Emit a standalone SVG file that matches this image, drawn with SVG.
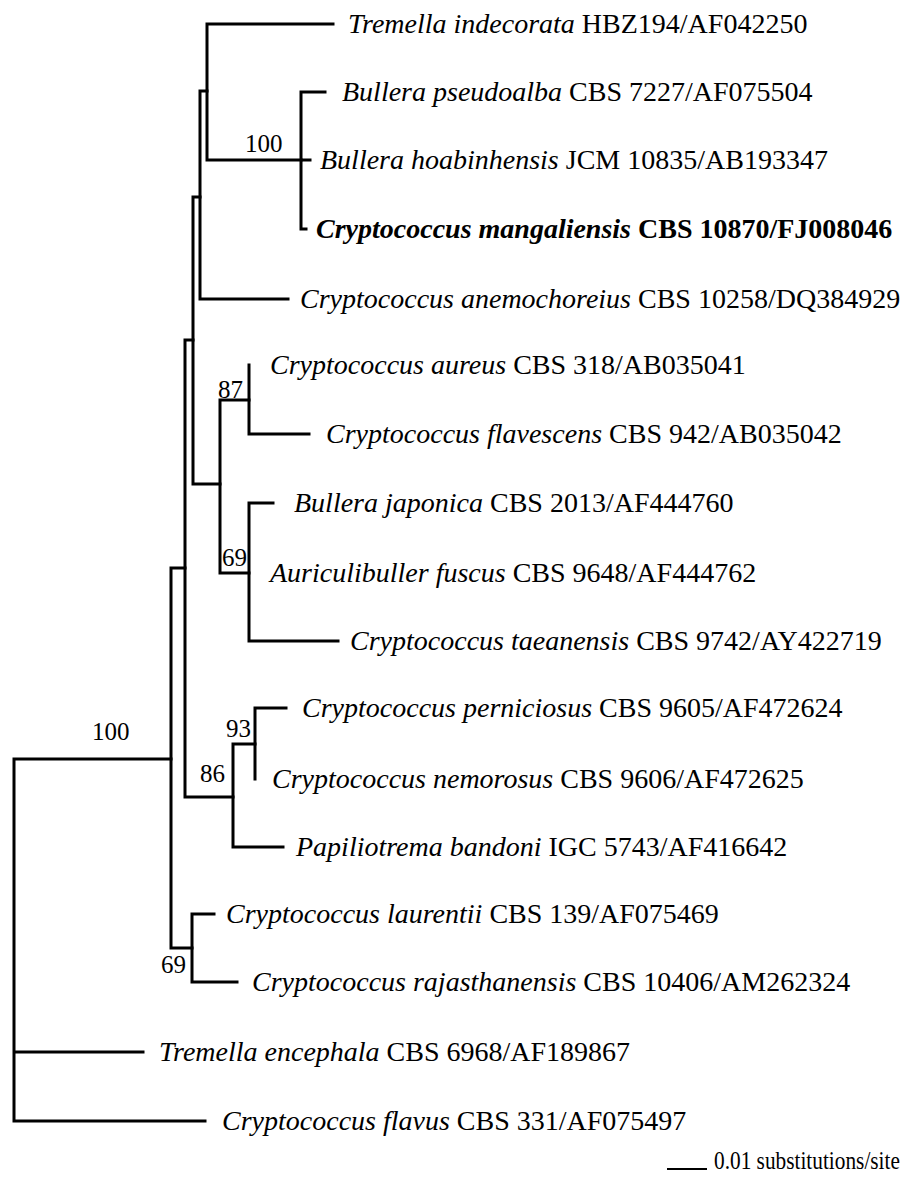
<svg xmlns="http://www.w3.org/2000/svg" width="917" height="1178" viewBox="0 0 917 1178">
<style>
.br{fill:none;stroke:#000;stroke-width:3;stroke-linecap:square}
text{font-family:'Liberation Serif','Times New Roman','DejaVu Serif',serif;fill:#000}
.lb{font-size:28px}
.it{font-style:italic}
.bs{font-size:25px}
</style>
<rect width="917" height="1178" fill="#fff"/>
<g id="connectors">
<path class="br" d="M14,759V1121M14,759H171M14,1052H143M14,1121H205"/>
<path class="br" d="M171,568V948M171,568H185M171,948H192"/>
<path class="br" d="M192,914V982M192,914H214M192,982H237"/>
<path class="br" d="M185,340V797M185,340H193M185,797H233"/>
<path class="br" d="M233,744V847M233,744H255M233,847H283"/>
<path class="br" d="M255,708V779M255,708H286"/>
<path class="br" d="M193,197V484M193,197H200M193,484H220"/>
<path class="br" d="M220,400V573M220,400H249M220,573H249"/>
<path class="br" d="M249,365V434M249,434H309"/>
<path class="br" d="M249,503V641M249,503H273M249,641H338"/>
<path class="br" d="M200,91V299M200,91H207M200,299H288"/>
<path class="br" d="M207,24V160M207,24H333M207,160H301"/>
<path class="br" d="M301,92V229M301,92H325M301,160H310M301,229H306"/>
</g>
<g id="support">
<text class="bs" x="245" y="152">100</text>
<text class="bs" x="218" y="398">87</text>
<text class="bs" x="222" y="566">69</text>
<text class="bs" x="92" y="740">100</text>
<text class="bs" x="226" y="737">93</text>
<text class="bs" x="200" y="782">86</text>
<text class="bs" x="161" y="973">69</text>
</g>
<g id="t1"><text class="lb" x="348" y="33"><tspan class="it">Tremella indecorata</tspan> HBZ194/AF042250</text></g>
<g id="t2"><text class="lb" x="342" y="101"><tspan class="it">Bullera pseudoalba</tspan> CBS 7227/AF075504</text></g>
<g id="t3"><text class="lb" x="320" y="169"><tspan class="it">Bullera hoabinhensis</tspan> JCM 10835/AB193347</text></g>
<g id="t4"><text class="lb" x="316" y="238" font-weight="bold"><tspan class="it">Cryptococcus mangaliensis</tspan> CBS 10870/FJ008046</text></g>
<g id="t5"><text class="lb" x="300" y="308"><tspan class="it">Cryptococcus anemochoreius</tspan> CBS 10258/DQ384929</text></g>
<g id="t6"><text class="lb" x="270" y="374"><tspan class="it">Cryptococcus aureus</tspan> CBS 318/AB035041</text></g>
<g id="t7"><text class="lb" x="326" y="443"><tspan class="it">Cryptococcus flavescens</tspan> CBS 942/AB035042</text></g>
<g id="t8"><text class="lb" x="294" y="512"><tspan class="it">Bullera japonica</tspan> CBS 2013/AF444760</text></g>
<g id="t9"><text class="lb" x="270" y="582"><tspan class="it">Auriculibuller fuscus</tspan> CBS 9648/AF444762</text></g>
<g id="t10"><text class="lb" x="350" y="650"><tspan class="it">Cryptococcus taeanensis</tspan> CBS 9742/AY422719</text></g>
<g id="t11"><text class="lb" x="302" y="717"><tspan class="it">Cryptococcus perniciosus</tspan> CBS 9605/AF472624</text></g>
<g id="t12"><text class="lb" x="272" y="788"><tspan class="it">Cryptococcus nemorosus</tspan> CBS 9606/AF472625</text></g>
<g id="t13"><text class="lb" x="296" y="856"><tspan class="it">Papiliotrema bandoni</tspan> IGC 5743/AF416642</text></g>
<g id="t14"><text class="lb" x="226" y="923"><tspan class="it">Cryptococcus laurentii</tspan> CBS 139/AF075469</text></g>
<g id="t15"><text class="lb" x="252" y="991"><tspan class="it">Cryptococcus rajasthanensis</tspan> CBS 10406/AM262324</text></g>
<g id="t16"><text class="lb" x="159" y="1061"><tspan class="it">Tremella encephala</tspan> CBS 6968/AF189867</text></g>
<g id="t17"><text class="lb" x="222" y="1130"><tspan class="it">Cryptococcus flavus</tspan> CBS 331/AF075497</text></g>
<g id="scale">
<line x1="667" y1="1169" x2="707" y2="1169" stroke="#000" stroke-width="2"/>
<text transform="translate(714,1169) scale(0.82,1)" x="0" y="0" font-size="26">0.01 substitutions/site</text>
</g>
</svg>
